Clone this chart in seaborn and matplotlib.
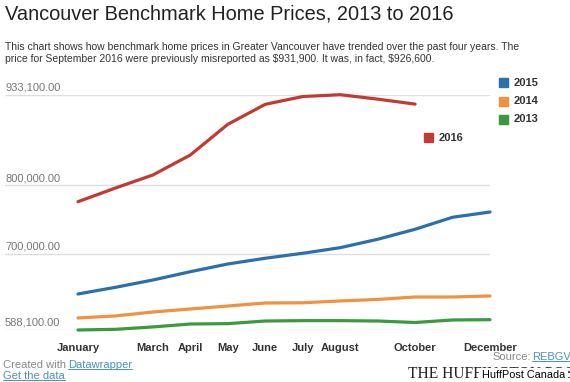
import numpy as np
import pandas as pd
import seaborn as sns
import matplotlib.pyplot as plt
from matplotlib.lines import Line2D
from matplotlib.patches import Rectangle

# Datos (precio de referencia, Greater Vancouver)
months = ['January', 'February', 'March', 'April', 'May', 'June', 'July',
          'August', 'September', 'October', 'November', 'December']
price_2013 = [588100, 589100, 592600, 596900, 597400, 601300, 601800,
              601800, 601300, 599100, 602800, 603200]
price_2014 = [605700, 608700, 614500, 618900, 623300, 627700, 628000,
              630700, 632900, 636500, 636500, 638000]
price_2015 = [640900, 650700, 661400, 673600, 684900, 693300, 700600,
              708800, 721100, 735800, 753400, 761100]
price_2016 = [776200, 796300, 815400, 844700, 889700, 919000, 930400,
              933100, 926600, 919300]
years = ['2013', '2014', '2015', '2016']
year_colors = ['#3a9a3d', '#f0923e', '#2b70ad', '#c23b32']
labeled_months = ['January', 'March', 'April', 'May', 'June', 'July',
                  'August', 'October', 'December']
y_ticks = [588100, 700000, 800000, 933100]

W, H = 570, 382


def px(x, y):
    # pixeles de la imagen -> fracciones de la figura
    return x / W, 1 - y / H


# DataFrame largo para seaborn
rows = []
for yr, vals in zip(years, [price_2013, price_2014, price_2015, price_2016]):
    for i, v in enumerate(vals):
        rows.append({'month': i, 'price': v, 'year': yr})
df = pd.DataFrame(rows)

sns.set_style('white')
plt.rcParams['font.family'] = ['Liberation Sans', 'DejaVu Sans']

fig = plt.figure(figsize=(W / 100, H / 100), dpi=100)
ax_left, ax_top, ax_right, ax_bottom = 5, 94.7, 490, 330
ax = fig.add_axes([ax_left / W, 1 - ax_bottom / H,
                   (ax_right - ax_left) / W, (ax_bottom - ax_top) / H])

sns.lineplot(data=df, x='month', y='price', hue='year', hue_order=years,
             palette=dict(zip(years, year_colors)), linewidth=2.3,
             legend=False, ax=ax)
for ln in ax.lines:
    ln.set_clip_on(False)
    ln.set_solid_capstyle('round')

# eje x: enero en x=78 px, diciembre en x=490 px
step = (ax_right - 78) / (len(months) - 1)
ax.set_xlim(-(78 - ax_left) / step, len(months) - 1)
ax.set_ylim(min(y_ticks), max(y_ticks))

ax.set_xticks([months.index(m) for m in labeled_months])
ax.set_xticklabels(labeled_months, fontsize=8, fontweight='bold', color='#333333')
ax.tick_params(axis='x', length=0, pad=9.5)
ax.set_yticks([])
ax.set_xlabel('')
ax.set_ylabel('')
for s in ax.spines.values():
    s.set_visible(False)

for t in y_ticks:
    ax.axhline(t, color='#dddddd', linewidth=1, zorder=0)
    ax.annotate(f'{t:,.2f}', xy=(0, t), xycoords=('axes fraction', 'data'),
                xytext=(0, 3.2), textcoords='offset points',
                ha='left', va='baseline', fontsize=8, color='#777777')

# titulo y subtitulo
fig.text(*px(5, 19.5), 'Vancouver Benchmark Home Prices, 2013 to 2016',
         fontsize=14.4, color='#222222', va='baseline')
fig.text(*px(5, 50), 'This chart shows how benchmark home prices in Greater Vancouver '
         'have trended over the past four years. The', fontsize=7.45,
         color='#333333', va='baseline')
fig.text(*px(5, 62.3), 'price for September 2016 were previously misreported as '
         r'\$931,900. It was, in fact, \$926,600.', fontsize=7.45,
         color='#333333', va='baseline')

# leyenda
leg_items = [('2015', 82.5, 499), ('2014', 101, 499), ('2013', 119, 499),
             ('2016', 137.5, 424)]
for yr, yc, xs in leg_items:
    col = year_colors[years.index(yr)]
    fig.patches.append(Rectangle(px(xs, yc + 4.5), 9 / W, 9 / H,
                                 transform=fig.transFigure, color=col))
    fig.text(*px(xs + 15, yc), yr, fontsize=8, fontweight='bold',
             color='#333333', va='center')

# pie
link = '#4a90c2'
fig.text(*px(3, 368), 'Created with', fontsize=8, color='#888888', va='baseline')
t_dw = fig.text(*px(68, 368), 'Datawrapper', fontsize=8, color=link, va='baseline')
t_gd = fig.text(*px(3, 379), 'Get the data', fontsize=8, color=link, va='baseline')
fig.text(*px(492, 360.5), 'Source:', fontsize=8, color='#888888', va='baseline')
t_src = fig.text(*px(532, 360.5), 'REBGV', fontsize=8, color=link, va='baseline')
fig.text(*px(408, 377.7), 'THE HUFFINGTON POST', fontsize=11.2, color='#222222',
         va='baseline', family=['Liberation Serif', 'DejaVu Serif'])
fig.text(*px(482, 378.3), 'HuffPost Canada', fontsize=7.8, color='black',
         va='baseline', bbox=dict(facecolor='white', edgecolor='none',
                                  boxstyle='square,pad=0.25'))

# subrayado de los enlaces
fig.canvas.draw()
inv = fig.transFigure.inverted()
for t in [t_dw, t_gd, t_src]:
    bb = t.get_window_extent()
    (x0, y0), (x1, _) = inv.transform([[bb.x0, bb.y0 + 1.5], [bb.x1, bb.y0]])
    fig.lines.append(Line2D([x0, x1], [y0, y0], transform=fig.transFigure,
                            color=link, linewidth=0.7))

fig.savefig('out.png', dpi=100)
